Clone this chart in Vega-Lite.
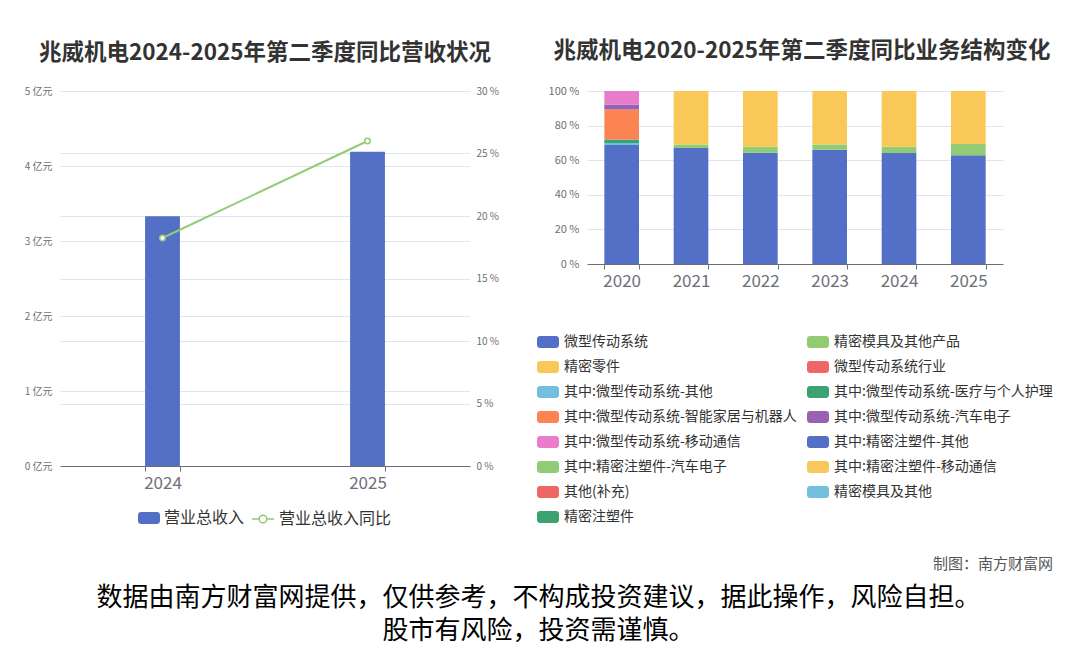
{
  "$schema": "https://vega.github.io/schema/vega-lite/v6.json",
  "background": "white",
  "padding": {"left": 24, "top": 39, "right": 8, "bottom": 1},
  "config": {
    "font": "Noto Sans CJK SC",
    "view": {"stroke": null},
    "axis": {
      "labelColor": "#6e7079",
      "domainColor": "#6e7079",
      "gridColor": "#e0e6f1",
      "tickColor": "#6e7079",
      "labelFont": "Noto Sans CJK SC"
    },
    "legend": {
      "labelFont": "Noto Sans CJK SC",
      "labelColor": "#333333",
      "layout": {"bottom": {"anchor": "middle", "direction": "horizontal", "margin": 6}}
    },
    "title": {"font": "Noto Sans CJK SC", "subtitleFont": "Noto Sans CJK SC"}
  },
  "title": {
    "text": "数据由南方财富网提供，仅供参考，不构成投资建议，据此操作，风险自担。",
    "subtitle": "股市有风险，投资需谨慎。",
    "orient": "bottom",
    "anchor": "middle",
    "fontSize": 26,
    "fontWeight": "normal",
    "color": "#000000",
    "subtitleFontSize": 26,
    "subtitleColor": "#000000",
    "subtitleFontWeight": "normal",
    "subtitlePadding": 7,
    "offset": 13
  },
  "vconcat": [
    {
      "title": {
        "text": "制图：南方财富网",
        "orient": "bottom",
        "anchor": "end",
        "frame": "bounds",
        "fontSize": 15,
        "fontWeight": "normal",
        "color": "#555555",
        "offset": 30
      },
      "bounds": "flush",
      "spacing": 117,
      "resolve": {
        "scale": {"fill": "independent", "stroke": "independent", "color": "independent"},
        "legend": {"fill": "independent", "stroke": "independent", "color": "independent"}
      },
      "hconcat": [
        {
          "title": {
            "text": "兆威机电2024-2025年第二季度同比营收状况",
            "fontSize": 22.5,
            "fontWeight": "bold",
            "color": "#333333",
            "anchor": "middle",
            "offset": 22
          },
          "width": 410,
          "height": 375,
          "data": {
            "values": [
              {"year": "2024", "revenue": 3.33, "yoy": 18.24},
              {"year": "2025", "revenue": 4.19, "yoy": 26.0}
            ]
          },
          "encoding": {
            "x": {
              "field": "year",
              "type": "nominal",
              "scale": {"paddingInner": 0.83, "paddingOuter": 0.415},
              "axis": {"title": null, "labelAngle": 0, "labelFontSize": 17, "labelPadding": 4, "ticks": true, "tickBand": "extent", "tickSize": 5, "grid": false}
            }
          },
          "layer": [
            {
              "mark": {"type": "bar", "color": "#5470c6"},
              "encoding": {
                "y": {
                  "field": "revenue",
                  "type": "quantitative",
                  "scale": {"domain": [0, 5]},
                  "axis": {
                    "title": null,
                    "values": [0, 1, 2, 3, 4, 5],
                    "labelExpr": "datum.value + ' 亿元'",
                    "labelFontSize": 10,
                    "labelPadding": 8,
                    "ticks": false,
                    "domain": false,
                    "grid": true
                  }
                },
                "fill": {
                  "datum": "营业总收入",
                  "type": "nominal",
                  "scale": {"range": ["#5470c6"]},
                  "legend": {
                    "title": null,
                    "orient": "bottom",
                    "offset": 16,
                    "labelFontSize": 16,
                    "symbolType": "M-0.73,-0.545 L0.73,-0.545 A0.27,0.27 0 0 1 1,-0.275 L1,0.275 A0.27,0.27 0 0 1 0.73,0.545 L-0.73,0.545 A0.27,0.27 0 0 1 -1,0.275 L-1,-0.275 A0.27,0.27 0 0 1 -0.73,-0.545 Z",
                    "symbolSize": 484,
                    "symbolStrokeWidth": 0,
                    "labelOffset": 4
                  }
                }
              }
            },
            {
              "mark": {
                "type": "line",
                "color": "#91cc75",
                "strokeWidth": 2,
                "point": {"filled": true, "fill": "white", "stroke": "#91cc75", "strokeWidth": 1.5, "size": 30}
              },
              "encoding": {
                "y": {
                  "field": "yoy",
                  "type": "quantitative",
                  "scale": {"domain": [0, 30]},
                  "axis": {
                    "title": null,
                    "orient": "right",
                    "values": [0, 5, 10, 15, 20, 25, 30],
                    "labelExpr": "datum.value + ' %'",
                    "labelFontSize": 10,
                    "labelPadding": 6,
                    "ticks": false,
                    "domain": false,
                    "grid": true
                  }
                },
                "stroke": {
                  "datum": "营业总收入同比",
                  "type": "nominal",
                  "scale": {"range": ["#91cc75"]},
                  "legend": {
                    "title": null,
                    "orient": "bottom",
                    "offset": 16,
                    "labelFontSize": 16,
                    "symbolType": "M-1,0 L-0.35,0 M0.35,0 L1,0 M0.35,0 A0.35,0.35 0 1 1 -0.35,0 A0.35,0.35 0 1 1 0.35,0",
                    "symbolSize": 484,
                    "symbolStrokeWidth": 1.5,
                    "symbolFillColor": "white",
                    "labelOffset": 4
                  }
                }
              }
            }
          ],
          "resolve": {"scale": {"y": "independent"}}
        },
        {
          "title": {
            "text": "兆威机电2020-2025年第二季度同比业务结构变化",
            "fontSize": 22.5,
            "fontWeight": "bold",
            "color": "#333333",
            "anchor": "middle",
            "offset": 23,
            "dx": 7
          },
          "width": 416,
          "height": 173,
          "data": {
            "values": [
              {"year": "2020", "k": "微型传动系统", "v": 68.8, "o": 1},
              {"year": "2020", "k": "其中:微型传动系统-其他", "v": 1.2, "o": 5},
              {"year": "2020", "k": "其中:微型传动系统-医疗与个人护理", "v": 2.0, "o": 6},
              {"year": "2020", "k": "其中:微型传动系统-智能家居与机器人", "v": 17.3, "o": 7},
              {"year": "2020", "k": "其中:微型传动系统-汽车电子", "v": 2.9, "o": 8},
              {"year": "2020", "k": "其中:微型传动系统-移动通信", "v": 7.8, "o": 9},
              {"year": "2021", "k": "微型传动系统", "v": 67.0, "o": 1},
              {"year": "2021", "k": "精密模具及其他产品", "v": 2.1, "o": 2},
              {"year": "2021", "k": "精密零件", "v": 30.9, "o": 3},
              {"year": "2022", "k": "微型传动系统", "v": 64.3, "o": 1},
              {"year": "2022", "k": "精密模具及其他产品", "v": 3.5, "o": 2},
              {"year": "2022", "k": "精密零件", "v": 32.2, "o": 3},
              {"year": "2023", "k": "微型传动系统", "v": 66.0, "o": 1},
              {"year": "2023", "k": "精密模具及其他产品", "v": 3.1, "o": 2},
              {"year": "2023", "k": "精密零件", "v": 30.9, "o": 3},
              {"year": "2024", "k": "微型传动系统", "v": 64.1, "o": 1},
              {"year": "2024", "k": "精密模具及其他产品", "v": 3.7, "o": 2},
              {"year": "2024", "k": "精密零件", "v": 32.2, "o": 3},
              {"year": "2025", "k": "微型传动系统", "v": 62.9, "o": 1},
              {"year": "2025", "k": "精密模具及其他产品", "v": 6.4, "o": 2},
              {"year": "2025", "k": "精密零件", "v": 30.7, "o": 3}
            ]
          },
          "mark": {"type": "bar"},
          "encoding": {
            "x": {
              "field": "year",
              "type": "nominal",
              "scale": {"paddingInner": 0.5, "paddingOuter": 0.25},
              "axis": {"title": null, "labelAngle": 0, "labelFontSize": 17, "labelPadding": 4, "ticks": true, "tickBand": "extent", "tickSize": 5}
            },
            "y": {
              "field": "v",
              "type": "quantitative",
              "stack": "zero",
              "scale": {"domain": [0, 100]},
              "axis": {
                "title": null,
                "values": [0, 20, 40, 60, 80, 100],
                "labelExpr": "datum.value + ' %'",
                "labelFontSize": 11,
                "labelPadding": 8,
                "ticks": false,
                "domain": false,
                "grid": true
              }
            },
            "order": {"field": "o", "type": "quantitative", "sort": "ascending"},
            "color": {
              "field": "k",
              "type": "nominal",
              "scale": {
                "domain": [
                  "微型传动系统", "精密模具及其他产品", "精密零件", "微型传动系统行业",
                  "其中:微型传动系统-其他", "其中:微型传动系统-医疗与个人护理",
                  "其中:微型传动系统-智能家居与机器人", "其中:微型传动系统-汽车电子",
                  "其中:微型传动系统-移动通信", "其中:精密注塑件-其他", "其中:精密注塑件-汽车电子",
                  "其中:精密注塑件-移动通信", "其他(补充)", "精密模具及其他", "精密注塑件"
                ],
                "range": [
                  "#5470c6", "#91cc75", "#fac858", "#ee6666", "#73c0de", "#3ba272",
                  "#fc8452", "#9a60b4", "#ea7ccc", "#5470c6", "#91cc75", "#fac858",
                  "#ee6666", "#73c0de", "#3ba272"
                ]
              },
              "legend": {
                "title": null,
                "orient": "bottom",
                "direction": "horizontal",
                "columns": 2,
                "offset": 42,
                "labelFontSize": 14,
                "labelLimit": 400,
                "rowPadding": 7,
                "columnPadding": 10,
                "labelOffset": 5,
                "symbolType": "M-0.73,-0.545 L0.73,-0.545 A0.27,0.27 0 0 1 1,-0.275 L1,0.275 A0.27,0.27 0 0 1 0.73,0.545 L-0.73,0.545 A0.27,0.27 0 0 1 -1,0.275 L-1,-0.275 A0.27,0.27 0 0 1 -0.73,-0.545 Z",
                "symbolSize": 484,
                "symbolStrokeWidth": 0
              }
            }
          }
        }
      ]
    }
  ]
}
